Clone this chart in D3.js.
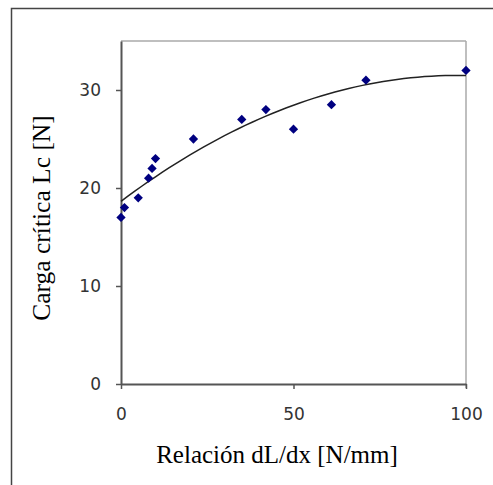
<!DOCTYPE html>
<html lang="en">
<head>
<meta charset="UTF-8">
<title>Carga crítica</title>
<script src="https://d3js.org/d3.v7.min.js"></script>
<style>
  body { margin: 0; background: #fff; }
</style>
</head>
<body>
<script>
// data
var relacion = [0, 1, 5, 8, 9, 10, 21, 35, 42, 50, 61, 71, 100];
var carga    = [17, 18, 19, 21, 22, 23, 25, 27, 28, 26, 28.5, 31, 32];
var xTicks = [0, 50, 100];
var yTicks = [0, 10, 20, 30];

var W = 493, H = 485;
var svg = d3.select("body").append("svg")
    .attr("width", W)
    .attr("height", H);

// outer frame of the chart object
svg.append("rect")
    .attr("x", 11.5).attr("y", 8.5)
    .attr("width", 500).attr("height", 500)
    .style("fill", "none")
    .style("stroke", "#444")
    .style("stroke-width", 1.5);

var x = d3.scaleLinear().domain([0, 100]).range([121, 466]);
var y = d3.scaleLinear().domain([0, 35]).range([384, 41]);

// plot area border (light gray top/right)
svg.append("line")
    .attr("x1", x(0)).attr("y1", y(35))
    .attr("x2", x(100)).attr("y2", y(35))
    .style("stroke", "#aaa").style("stroke-width", 1.5);
svg.append("line")
    .attr("x1", x(100)).attr("y1", y(35))
    .attr("x2", x(100)).attr("y2", y(0) + 4)
    .style("stroke", "#aaa").style("stroke-width", 1.5);

var xAxis = svg.append("g")
    .attr("transform", "translate(0," + y(0) + ")")
    .call(d3.axisBottom(x).tickValues(xTicks).tickSize(5).tickSizeOuter(0).tickPadding(19));
var yAxis = svg.append("g")
    .attr("transform", "translate(" + x(0) + ",0)")
    .call(d3.axisLeft(y).tickValues(yTicks).tickSize(5).tickSizeOuter(0).tickPadding(15));

[xAxis, yAxis].forEach(function(g) {
    g.select(".domain").style("stroke", "#555").style("stroke-width", 2);
    g.selectAll(".tick line").style("stroke", "#555").style("stroke-width", 1.5);
    g.selectAll(".tick text")
        .style("font-family", "'DejaVu Sans', Verdana, sans-serif")
        .style("font-size", "17px")
        .style("fill", "#333");
});

// quadratic least-squares trend line (like Excel's polynomial trendline)
function polyFit(xs, ys) {
    var n = xs.length, S = [0,0,0,0,0], T = [0,0,0];
    for (var i = 0; i < n; i++) {
        for (var k = 0; k < 5; k++) S[k] += Math.pow(xs[i], k);
        for (var k = 0; k < 3; k++) T[k] += ys[i] * Math.pow(xs[i], k);
    }
    var A = [[S[0],S[1],S[2],T[0]],[S[1],S[2],S[3],T[1]],[S[2],S[3],S[4],T[2]]];
    for (var c = 0; c < 3; c++) {
        for (var r = c + 1; r < 3; r++) {
            var f = A[r][c] / A[c][c];
            for (var j = c; j < 4; j++) A[r][j] -= f * A[c][j];
        }
    }
    var b = [0,0,0];
    for (var r = 2; r >= 0; r--) {
        var s = A[r][3];
        for (var j = r + 1; j < 3; j++) s -= A[r][j] * b[j];
        b[r] = s / A[r][r];
    }
    return b;
}
var coef = polyFit(relacion, carga);
var trend = d3.range(0, 100.5, 2).map(function(v) {
    return [v, coef[0] + coef[1] * v + coef[2] * v * v];
});
svg.append("path")
    .datum(trend)
    .attr("d", d3.line().x(function(d) { return x(d[0]); }).y(function(d) { return y(d[1]); }))
    .style("fill", "none")
    .style("stroke", "#222")
    .style("stroke-width", 1.5);

// diamond markers
svg.selectAll(".pt")
    .data(relacion)
    .enter().append("path")
    .attr("class", "pt")
    .attr("d", d3.symbol().type(d3.symbolDiamond2).size(55))
    .attr("transform", function(d, i) { return "translate(" + x(d) + "," + y(carga[i]) + ")"; })
    .style("fill", "#000080");

// axis titles
svg.append("text")
    .attr("x", 277).attr("y", 463)
    .attr("text-anchor", "middle")
    .style("font-family", "'Liberation Serif', 'Times New Roman', serif")
    .style("font-size", "25px")
    .text("Relación dL/dx [N/mm]");
svg.append("text")
    .attr("transform", "translate(50,218) rotate(-90)")
    .attr("text-anchor", "middle")
    .style("font-family", "'Liberation Serif', 'Times New Roman', serif")
    .style("font-size", "25.5px")
    .text("Carga crítica Lc [N]");
</script>
</body>
</html>
